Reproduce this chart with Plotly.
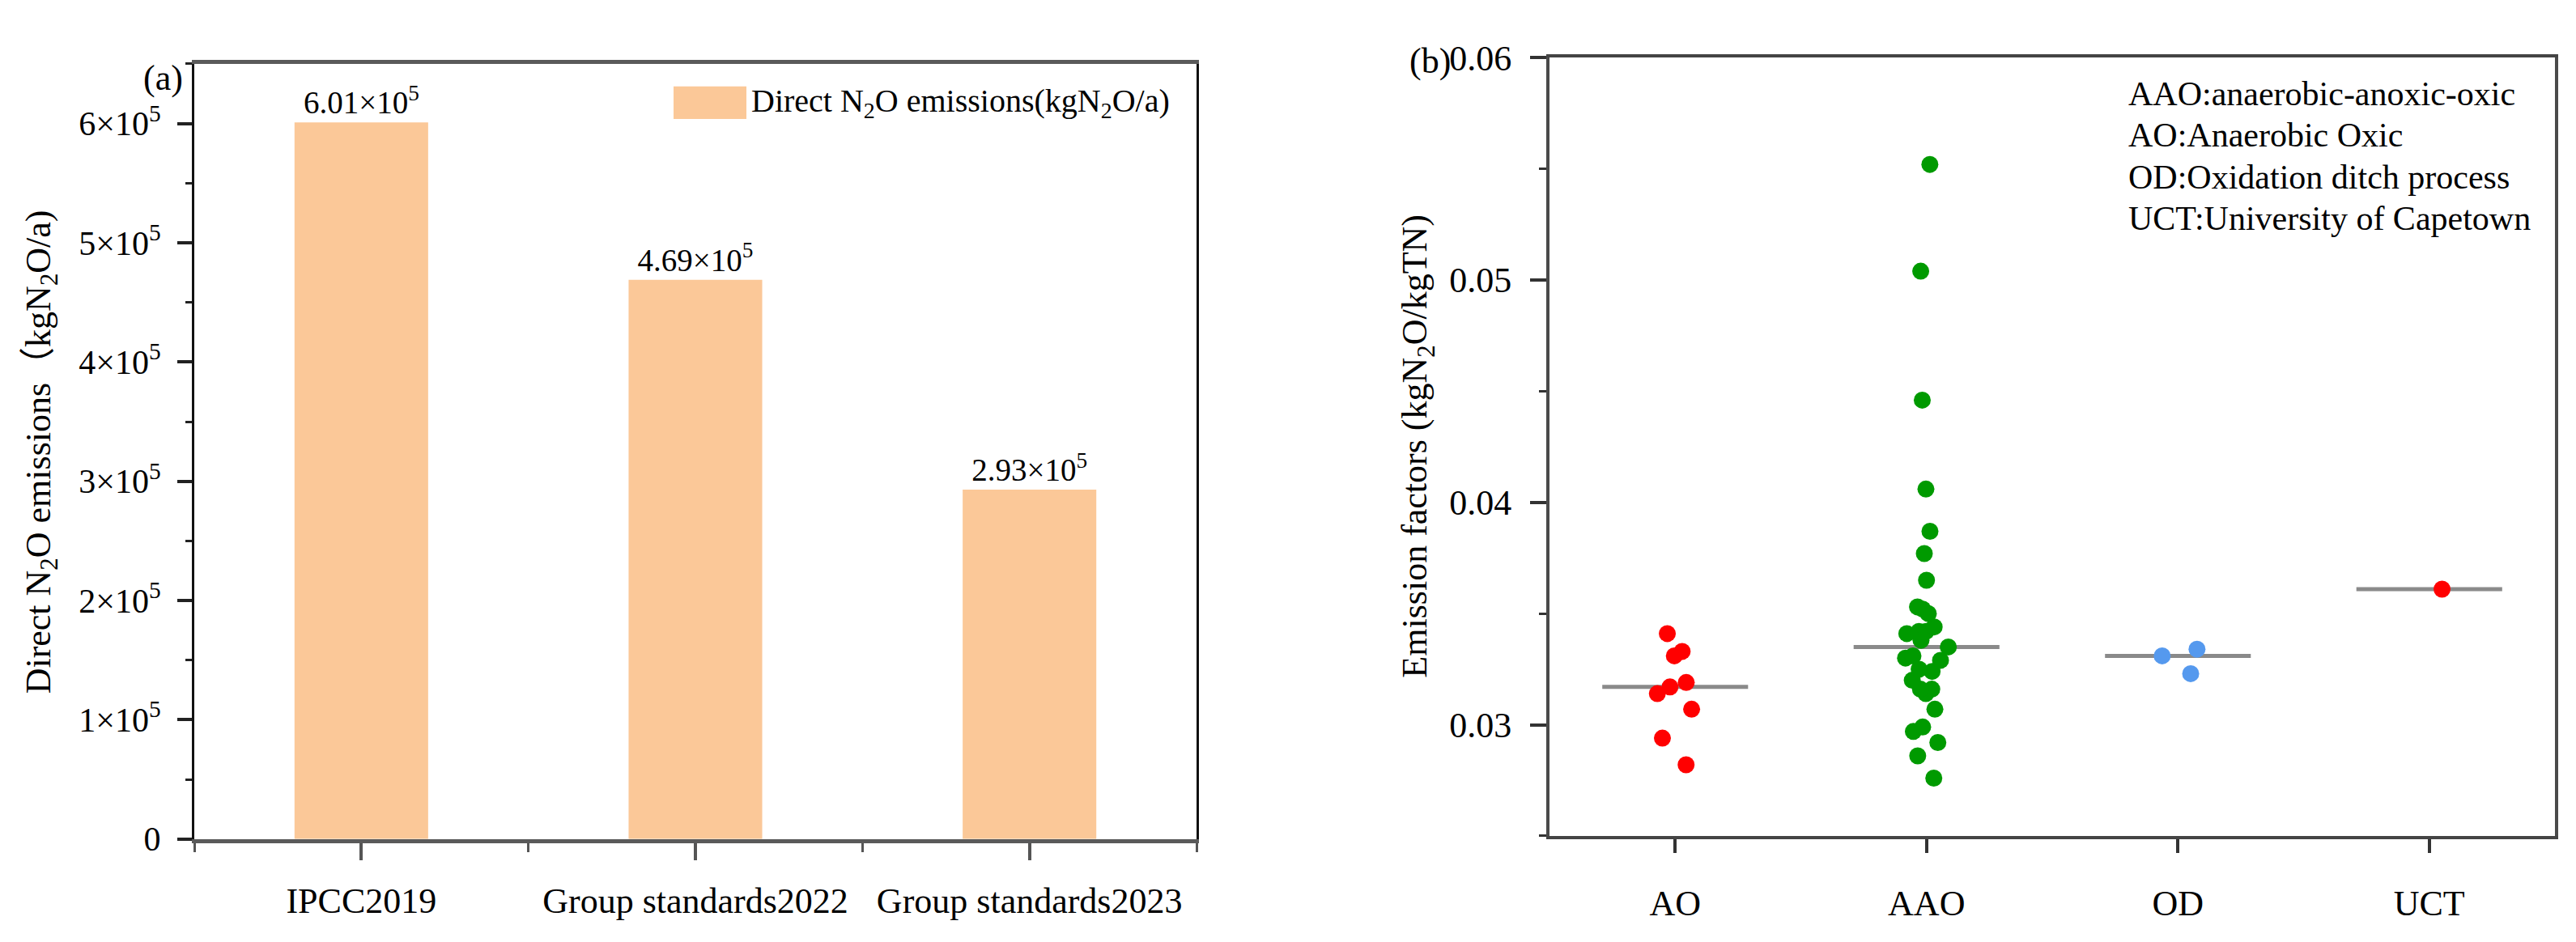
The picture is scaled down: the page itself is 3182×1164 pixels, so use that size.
import numpy as np
import plotly.graph_objects as go

# ---- data ----
standards = ["IPCC2019", "Group standards2022", "Group standards2023"]
emissions = [6.01e5, 4.69e5, 2.93e5]  # kgN2O/a

processes = ["AO", "AAO", "OD", "UCT"]
ef_ao = [0.0341, 0.0333, 0.0331, 0.0319, 0.0317, 0.0314, 0.0307, 0.0294, 0.0282]
ef_aao = [0.0552, 0.0504, 0.0446, 0.0406, 0.0387, 0.0377, 0.0365, 0.0353, 0.0352,
          0.0350, 0.0344, 0.0342, 0.0342, 0.0341, 0.0338, 0.0335, 0.0331, 0.0330,
          0.0329, 0.0325, 0.0324, 0.0320, 0.0316, 0.0316, 0.0314, 0.0307, 0.0299,
          0.0297, 0.0292, 0.0286, 0.0276]
ef_od = [0.0334, 0.0331, 0.0323]
ef_uct = [0.0361]

notes = ["AAO:anaerobic-anoxic-oxic", "AO:Anaerobic Oxic",
         "OD:Oxidation ditch process", "UCT:University of Capetown"]

W, H = 3182, 1164
OFF = 8  # default body margin of the page
FONT = "Liberation Serif, Times New Roman, Noto Sans CJK SC, serif"
BAR_COLOR = "#FBC898"
point_colors = ["#FF0000", "#009A00", "#5599EE", "#FF0000"]


def px(x):
    return (x - OFF) / W


def py(y):
    return 1 - (y - OFF) / H


fig = go.Figure()

# (a) bars
xpos = list(range(len(standards)))
fig.add_trace(go.Bar(
    x=xpos, y=emissions, width=0.4, marker=dict(color=BAR_COLOR, line=dict(width=0)),
    text=[f"{v / 1e5:.2f}×10<sup>5</sup>" for v in emissions],
    textposition="outside", constraintext="none", cliponaxis=False,
    textfont=dict(family=FONT, size=39, color="black"),
    showlegend=False, xaxis="x", yaxis="y"))

# (b) scatter of emission factors, one box trace per process (box hidden)
groups = [ef_ao, ef_aao, ef_od, ef_uct]
for name, vals, col in zip(processes, groups, point_colors):
    fig.add_trace(go.Box(
        x=[name] * len(vals), y=vals, boxpoints="all", jitter=0.4, pointpos=0,
        fillcolor="rgba(0,0,0,0)", line=dict(width=0, color=col),
        marker=dict(color=col, size=21, line=dict(width=0)),
        showlegend=False, xaxis="x2", yaxis="y2"))

# median lines
shapes = []
for i, vals in enumerate(groups):
    m = float(np.median(vals))
    shapes.append(dict(type="line", xref="x2", yref="y2", x0=i - 0.29, x1=i + 0.29,
                       y0=m, y1=m, line=dict(color="#8A8A8A", width=5), layer="below"))

# legend box for (a)
shapes.append(dict(type="rect", xref="paper", yref="paper",
                   x0=px(832), x1=px(922), y0=py(128), y1=py(86),
                   fillcolor=BAR_COLOR, line=dict(width=0)))

annotations = [
    dict(text="Direct N<sub>2</sub>O emissions(kgN<sub>2</sub>O/a)", x=px(926), y=py(107),
         xanchor="left", yanchor="middle", font=dict(size=40)),
    dict(text="(a)", x=px(201), y=py(75), xanchor="center", yanchor="middle", font=dict(size=44)),
    dict(text="(b)", x=px(1766), y=py(53), xanchor="center", yanchor="middle", font=dict(size=44)),
    dict(text="Direct N<sub>2</sub>O emissions（kgN<sub>2</sub>O/a)", textangle=-90,
         x=px(50), y=py(557), xanchor="center", yanchor="middle", font=dict(size=44)),
    dict(text="Emission factors (kgN<sub>2</sub>O/kgTN)", textangle=-90,
         x=px(1751), y=py(550), xanchor="center", yanchor="middle", font=dict(size=44)),
]
for k, t in enumerate(notes):
    annotations.append(dict(text=t, x=px(2627), y=py(96 + 53.3 * k), xanchor="left",
                            yanchor="middle", font=dict(size=42)))
for a in annotations:
    a.update(xref="paper", yref="paper", showarrow=False)
    a["font"].update(family=FONT, color="black")

ytick_a = [i * 1e5 for i in range(7)]
ytext_a = ["0"] + [f"{i}×10<sup>5</sup>" for i in range(1, 7)]

fig.update_layout(
    width=W, height=H, margin=dict(l=0, r=0, t=0, b=0),
    paper_bgcolor="white", plot_bgcolor="white",
    font=dict(family=FONT, size=44, color="black"),
    shapes=shapes, annotations=annotations,
    xaxis=dict(domain=[px(240), px(1478)], range=[-0.5, 2.5],
               tickmode="array", tickvals=xpos, ticktext=standards,
               ticks="outside", ticklen=21, tickwidth=4, tickcolor="#555",
               minor=dict(tickmode="linear", tick0=-0.5, dtick=1, ticks="outside",
                          ticklen=11, tickwidth=3, tickcolor="#555"),
               showline=True, linecolor="#5A5A5A", linewidth=5, mirror=True,
               showgrid=False, zeroline=False, ticklabelstandoff=12,
               tickfont=dict(size=44)),
    yaxis=dict(domain=[py(1056), py(57)], range=[0, 6.5e5],
               tickmode="array", tickvals=ytick_a, ticktext=ytext_a,
               ticks="outside", ticklen=18, tickwidth=4, tickcolor="#222",
               minor=dict(tickmode="linear", tick0=0, dtick=0.5e5, ticks="outside",
                          ticklen=8, tickwidth=3, tickcolor="#222"),
               showline=True, linecolor="#111", linewidth=3, mirror=True,
               showgrid=False, zeroline=False, ticklabelstandoff=12,
               tickfont=dict(size=42)),
    xaxis2=dict(domain=[px(1914), px(3156)], range=[-0.5, 3.5],
                type="category", categoryorder="array", categoryarray=processes,
                ticks="outside", ticklen=17, tickwidth=4, tickcolor="#333",
                showline=True, linecolor="#444", linewidth=4, mirror=True,
                showgrid=False, zeroline=False, ticklabelstandoff=24,
                tickfont=dict(size=44), anchor="y2"),
    yaxis2=dict(domain=[py(1052), py(49)], range=[0.025, 0.06],
                tickmode="array", tickvals=[0.03, 0.04, 0.05, 0.06],
                ticktext=["0.03", "0.04", "0.05", "0.06"],
                ticks="outside", ticklen=20, tickwidth=4, tickcolor="#333",
                minor=dict(tickmode="linear", tick0=0.025, dtick=0.01, ticks="outside",
                           ticklen=9, tickwidth=3, tickcolor="#333"),
                showline=True, linecolor="#4A4A4A", linewidth=4, mirror=True,
                showgrid=False, zeroline=False, ticklabelstandoff=14,
                tickfont=dict(size=44), anchor="x2"),
    boxmode="overlay",
)

fig.write_html("out.html")
